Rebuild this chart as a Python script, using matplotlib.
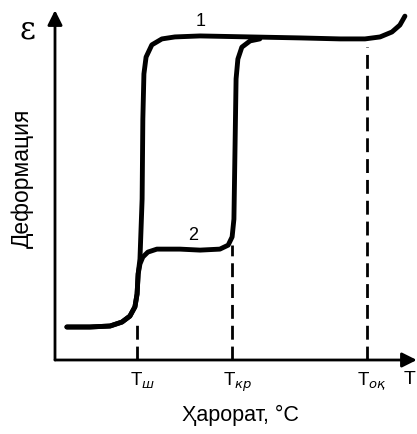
import matplotlib
matplotlib.use("Agg")
import matplotlib.pyplot as plt

plt.rcParams["font.family"] = ["Liberation Sans", "DejaVu Sans"]
plt.rcParams["mathtext.fontset"] = "dejavusans"

# curve 1: one-stage transition (temperature units, deformation units)
t1 = [3.3, 9.7, 15.3, 18.6, 20.8, 22.2, 22.8, 23.1, 23.6, 24.2, 24.4, 24.7,
      25.3, 26.9, 29.7, 33.3, 40.3, 54.2, 68.1, 79.2, 86.1, 90.3, 93.6, 95.8, 97.2]
e1 = [10.0, 10.0, 10.3, 11.5, 13.3, 16.1, 20.0, 26.1, 30.6, 48.8, 73.0, 86.7,
      91.8, 95.5, 97.3, 97.9, 98.2, 97.9, 97.6, 97.3, 97.3, 97.9, 99.4, 101.5, 104.2]

# curve 2: two-stage transition
t2 = [3.3, 9.7, 15.3, 18.6, 20.8, 22.2, 22.8, 23.1, 23.6, 24.4, 25.8, 28.3,
      34.7, 40.3, 45.8, 48.1, 49.2, 49.7, 50.0, 50.3, 50.8, 51.9, 54.2, 56.9]
e2 = [10.0, 10.0, 10.3, 11.5, 13.3, 16.1, 20.0, 26.1, 29.1, 31.2, 32.7, 33.6,
      33.6, 33.3, 33.6, 34.8, 37.3, 42.7, 63.9, 85.2, 91.2, 94.8, 96.7, 97.3]

# characteristic temperatures and heights of their guide lines
t_marks = [22.8, 49.2, 86.7]
e_marks = [11.0, 35.0, 94.8]
mark_subs = ["ш", "кр", "оқ"]

fig = plt.figure(figsize=(4.17, 4.35), dpi=100)
ax = fig.add_axes([55 / 417, 74 / 435, 360 / 417, 349.8 / 435])
ax.set_xlim(0, 100)
ax.set_ylim(0, 106)
ax.axis("off")

# axes with arrows
ax.annotate("", xy=(0, 1.0), xytext=(0, 0), xycoords="axes fraction",
            arrowprops=dict(arrowstyle="-|>", lw=2.0, color="black",
                            mutation_scale=22, shrinkA=0, shrinkB=0))
ax.annotate("", xy=(1.005, 0), xytext=(0, 0), xycoords="axes fraction",
            arrowprops=dict(arrowstyle="-|>", lw=2.0, color="black",
                            mutation_scale=22, shrinkA=0, shrinkB=0))

for t, e in zip(t_marks, e_marks):
    ax.plot([t, t], [0, e], color="black", lw=2.0, ls=(0, (5, 2.5)),
            clip_on=False)

ax.plot(t2, e2, color="black", lw=3.5, solid_joinstyle="round",
        solid_capstyle="round", clip_on=False)
ax.plot(t1, e1, color="black", lw=3.5, solid_joinstyle="round",
        solid_capstyle="round", clip_on=False)

ax.text(40.5, 103, "1", fontsize=13, ha="center", va="center")
ax.text(38.5, 38, "2", fontsize=13, ha="center", va="center")

for t, sub in zip(t_marks, mark_subs):
    ax.text(t + 1.4, -3.0, "T$_{\\mathit{" + sub + "}}$", fontsize=13.5,
            ha="center", va="top")
ax.text(98.5, -3.0, "T", fontsize=14, ha="center", va="top")

fig.text(27 / 417, 1 - 30 / 435, "ε", fontsize=22, ha="center", va="center",
         family="DejaVu Serif")
fig.text(22 / 417, 1 - 178 / 435, "Деформация", fontsize=16.5, rotation=90,
         ha="center", va="center")
fig.text(240 / 417, 1 - 415 / 435, "Ҳарорат, °С", fontsize=15.5,
         ha="center", va="center")

fig.savefig("out.png", dpi=100)
